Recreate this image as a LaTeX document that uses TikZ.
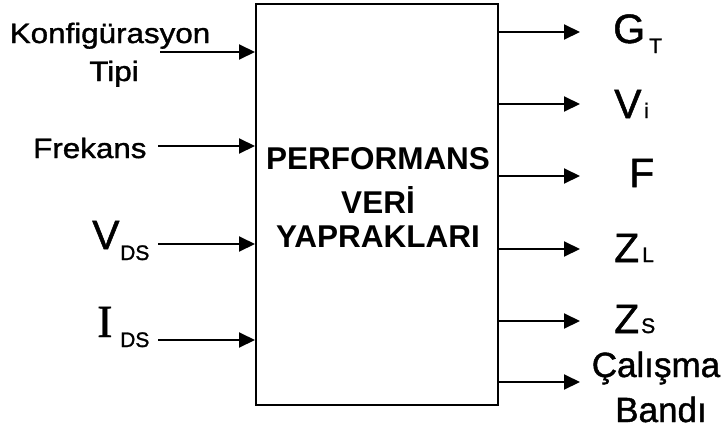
\documentclass[tikz,border=0pt]{standalone}
\usepackage{fontspec}
\setmainfont{Liberation Sans}
\newfontfamily\serifI{Liberation Serif}[FakeBold=1]
\newfontfamily\heavysans{Liberation Sans}[FakeBold=1.2]
\newfontfamily\boldsans{Liberation Sans Bold}
\usetikzlibrary{arrows.meta}
\newcommand{\wide}[1]{\scalebox{1.12}[1]{#1}}
\tikzset{
  lbl/.style={inner sep=0pt, anchor=base west},
  lefttxt/.style={lbl, font=\fontsize{28}{32}\selectfont\heavysans},
  bigtxt/.style={lbl, font=\fontsize{41}{46}\selectfont\heavysans},
  subtxt/.style={lbl, font=\fontsize{21}{24}\selectfont\heavysans},
  boxtxt/.style={inner sep=0pt, anchor=base, font=\fontsize{31.5}{36}\selectfont\boldsans},
  band/.style={inner sep=0pt, anchor=base, font=\fontsize{35}{40}\selectfont\heavysans},
  flow/.style={line width=2pt, -{Triangle[length=16pt,width=15pt]}}
}
\begin{document}
\begin{tikzpicture}[x=1pt,y=-1pt]
\useasboundingbox (0,0) rectangle (722,434);
\fill[white] (0,0) rectangle (722,434);

% central block
\node[draw, line width=2pt, minimum width=242pt, minimum height=401pt, inner sep=0pt] (box) at (377,204.5) {};
\node[boxtxt] (t1) at (378,169) {PERFORMANS};
\node[boxtxt] (t2) at (378,213) {VERİ};
\node[boxtxt] (t3) at (378,247) {YAPRAKLARI};

% inputs
\node[lefttxt, anchor=base] (konf) at (110,43) {\wide{Konfigürasyon}};
\node[lefttxt, anchor=base] (tipi) at (114,81) {\wide{Tipi}};
\node[lefttxt] (frek) at (33,158) {\wide{Frekans}};
\node[bigtxt] (vds) at (92,249) {V};
\node[subtxt] (vdss) at (120,260) {DS};
\node[lbl, font=\fontsize{46}{50}\selectfont\serifI] (ids) at (97,337) {I};
\node[subtxt] (idss) at (120,347) {DS};

\coordinate (ik) at (160,52);
\coordinate (ifr) at (158,146);
\coordinate (iv) at (158,244);
\coordinate (ii) at (158,340);
\draw[flow] (ik) -- (box.west |- ik);
\draw[flow] (ifr) -- (box.west |- ifr);
\draw[flow] (iv) -- (box.west |- iv);
\draw[flow] (ii) -- (box.west |- ii);

% outputs
\coordinate (o1) at (580,32);
\coordinate (o2) at (580,104);
\coordinate (o3) at (580,176);
\coordinate (o4) at (580,249);
\coordinate (o5) at (580,321);
\coordinate (o6) at (580,382);
\foreach \o in {o1,o2,o3,o4,o5,o6}
  \draw[flow] (box.east |- \o) -- (\o);

\node[bigtxt] (gt) at (613,43) {G};
\node[subtxt] (gts) at (649,53) {T};
\node[bigtxt] (vi) at (614,118) {V};
\node[subtxt] (vis) at (644,118) {i};
\node[bigtxt] (ff) at (629,187) {F};
\node[bigtxt] (zl) at (614,262) {Z};
\node[subtxt] (zls) at (642,262) {L};
\node[bigtxt] (zs) at (614,333) {Z};
\node[subtxt] (zss) at (641,333) {S};
\node[band] (cal) at (656,377) {Çalışma};
\node[band] (bnd) at (661,422) {Bandı};
\end{tikzpicture}
\end{document}
